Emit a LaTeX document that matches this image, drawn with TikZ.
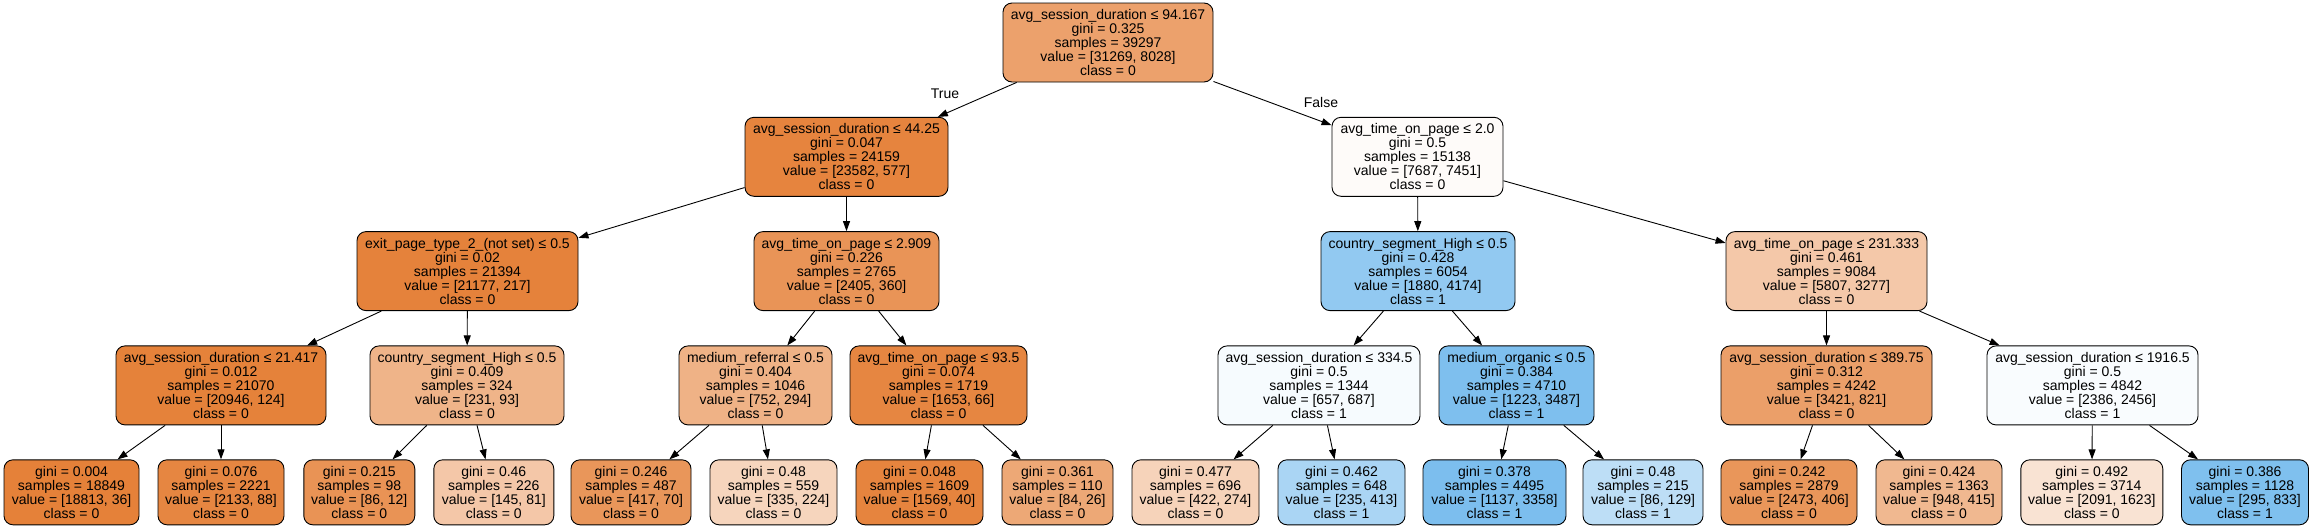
\documentclass[tikz,border=0pt]{standalone}
\usepackage{fontspec}
\setmainfont{Liberation Sans}
\usetikzlibrary{arrows.meta}
\definecolor{cR}{RGB}{236,161,108}
\definecolor{cA}{RGB}{230,132,62}
\definecolor{cB}{RGB}{254,251,249}
\definecolor{cC}{RGB}{229,130,59}
\definecolor{cD}{RGB}{233,148,87}
\definecolor{cE}{RGB}{146,201,241}
\definecolor{cF}{RGB}{244,200,169}
\definecolor{cG}{RGB}{229,130,58}
\definecolor{cH}{RGB}{239,180,137}
\definecolor{cI}{RGB}{239,178,134}
\definecolor{cJ}{RGB}{230,134,65}
\definecolor{cK}{RGB}{246,251,254}
\definecolor{cL}{RGB}{126,191,238}
\definecolor{cM}{RGB}{235,159,105}
\definecolor{cN}{RGB}{249,252,254}
\definecolor{l1}{RGB}{229,129,57}
\definecolor{l2}{RGB}{230,134,65}
\definecolor{l3}{RGB}{233,147,85}
\definecolor{l4}{RGB}{244,199,168}
\definecolor{l5}{RGB}{233,150,90}
\definecolor{l6}{RGB}{246,213,189}
\definecolor{l7}{RGB}{230,132,62}
\definecolor{l8}{RGB}{237,168,118}
\definecolor{l9}{RGB}{246,211,186}
\definecolor{l10}{RGB}{170,213,244}
\definecolor{l11}{RGB}{124,190,238}
\definecolor{l12}{RGB}{189,222,246}
\definecolor{l13}{RGB}{233,150,90}
\definecolor{l14}{RGB}{240,184,144}
\definecolor{l15}{RGB}{249,227,211}
\definecolor{l16}{RGB}{127,192,238}
\tikzset{
  tbox/.style={draw=black, line width=0.9pt, rounded corners=9pt, align=center,
    font=\fontsize{14}{14}\selectfont, inner xsep=7pt, inner ysep=0pt},
  inode/.style={tbox, minimum height=79pt},
  leaf/.style={tbox, minimum height=65pt},
  edge/.style={draw=black, line width=0.9pt, -{Triangle[length=10pt,width=7pt]}},
  elabel/.style={font=\fontsize{14}{14}\selectfont, inner sep=0pt}
}
\begin{document}
\begin{tikzpicture}[x=1pt,y=-1pt]
\useasboundingbox (0,0) rectangle (2314,528);
\fill[white] (0,0) rectangle (2314,528);
% level 0
\node[inode, fill=cR, minimum width=210pt] (R) at (1108,42.5) {avg\_session\_duration ≤ 94.167\\gini = 0.325\\samples = 39297\\value = [31269, 8028]\\class = 0};
% level 1
\node[inode, fill=cA, minimum width=203pt] (A) at (846.5,156.8) {avg\_session\_duration ≤ 44.25\\gini = 0.047\\samples = 24159\\value = [23582, 577]\\class = 0};
\node[inode, fill=cB, minimum width=171pt] (B) at (1417.5,156.8) {avg\_time\_on\_page ≤ 2.0\\gini = 0.5\\samples = 15138\\value = [7687, 7451]\\class = 0};
% level 2
\node[inode, fill=cC, minimum width=221pt] (C) at (467.5,271.1) {exit\_page\_type\_2\_(not set) ≤ 0.5\\gini = 0.02\\samples = 21394\\value = [21177, 217]\\class = 0};
\node[inode, fill=cD, minimum width=185pt] (D) at (846.5,271.1) {avg\_time\_on\_page ≤ 2.909\\gini = 0.226\\samples = 2765\\value = [2405, 360]\\class = 0};
\node[inode, fill=cE, minimum width=194pt] (E) at (1418,271.1) {country\_segment\_High ≤ 0.5\\gini = 0.428\\samples = 6054\\value = [1880, 4174]\\class = 1};
\node[inode, fill=cF, minimum width=201pt] (F) at (1826.5,271.1) {avg\_time\_on\_page ≤ 231.333\\gini = 0.461\\samples = 9084\\value = [5807, 3277]\\class = 0};
% level 3
\node[inode, fill=cG, minimum width=210pt] (G) at (221,385.4) {avg\_session\_duration ≤ 21.417\\gini = 0.012\\samples = 21070\\value = [20946, 124]\\class = 0};
\node[inode, fill=cH, minimum width=194pt] (H) at (467,385.4) {country\_segment\_High ≤ 0.5\\gini = 0.409\\samples = 324\\value = [231, 93]\\class = 0};
\node[inode, fill=cI, minimum width=153pt] (I) at (755.5,385.4) {medium\_referral ≤ 0.5\\gini = 0.404\\samples = 1046\\value = [752, 294]\\class = 0};
\node[inode, fill=cJ, minimum width=177pt] (J) at (938.5,385.4) {avg\_time\_on\_page ≤ 93.5\\gini = 0.074\\samples = 1719\\value = [1653, 66]\\class = 0};
\node[inode, fill=cK, minimum width=202pt] (K) at (1319,385.4) {avg\_session\_duration ≤ 334.5\\gini = 0.5\\samples = 1344\\value = [657, 687]\\class = 1};
\node[inode, fill=cL, minimum width=155pt] (L) at (1516.5,385.4) {medium\_organic ≤ 0.5\\gini = 0.384\\samples = 4710\\value = [1223, 3487]\\class = 1};
\node[inode, fill=cM, minimum width=211pt] (M) at (1826.5,385.4) {avg\_session\_duration ≤ 389.75\\gini = 0.312\\samples = 4242\\value = [3421, 821]\\class = 0};
\node[inode, fill=cN, minimum width=211pt] (N) at (2092.5,385.4) {avg\_session\_duration ≤ 1916.5\\gini = 0.5\\samples = 4842\\value = [2386, 2456]\\class = 1};
% leaves
\node[leaf, fill=l1, minimum width=135pt] (L1) at (71.5,492.3) {gini = 0.004\\samples = 18849\\value = [18813, 36]\\class = 0};
\node[leaf, fill=l2, minimum width=126pt] (L2) at (221,492.3) {gini = 0.076\\samples = 2221\\value = [2133, 88]\\class = 0};
\node[leaf, fill=l3, minimum width=111pt] (L3) at (359.3,492.3) {gini = 0.215\\samples = 98\\value = [86, 12]\\class = 0};
\node[leaf, fill=l4, minimum width=120pt] (L4) at (493.8,492.3) {gini = 0.46\\samples = 226\\value = [145, 81]\\class = 0};
\node[leaf, fill=l5, minimum width=120pt] (L5) at (631,492.3) {gini = 0.246\\samples = 487\\value = [417, 70]\\class = 0};
\node[leaf, fill=l6, minimum width=127pt] (L6) at (773.5,492.3) {gini = 0.48\\samples = 559\\value = [335, 224]\\class = 0};
\node[leaf, fill=l7, minimum width=127pt] (L7) at (919.5,492.3) {gini = 0.048\\samples = 1609\\value = [1569, 40]\\class = 0};
\node[leaf, fill=l8, minimum width=111pt] (L8) at (1057.5,492.3) {gini = 0.361\\samples = 110\\value = [84, 26]\\class = 0};
\node[leaf, fill=l9, minimum width=127pt] (L9) at (1195.5,492.3) {gini = 0.477\\samples = 696\\value = [422, 274]\\class = 0};
\node[leaf, fill=l10, minimum width=127pt] (L10) at (1341.5,492.3) {gini = 0.462\\samples = 648\\value = [235, 413]\\class = 1};
\node[leaf, fill=l11, minimum width=143pt] (L11) at (1494.5,492.3) {gini = 0.378\\samples = 4495\\value = [1137, 3358]\\class = 1};
\node[leaf, fill=l12, minimum width=120pt] (L12) at (1643,492.3) {gini = 0.48\\samples = 215\\value = [86, 129]\\class = 1};
\node[leaf, fill=l13, minimum width=136pt] (L13) at (1789,492.3) {gini = 0.242\\samples = 2879\\value = [2473, 406]\\class = 0};
\node[leaf, fill=l14, minimum width=126pt] (L14) at (1939,492.3) {gini = 0.424\\samples = 1363\\value = [948, 415]\\class = 0};
\node[leaf, fill=l15, minimum width=142pt] (L15) at (2091.8,492.3) {gini = 0.492\\samples = 3714\\value = [2091, 1623]\\class = 0};
\node[leaf, fill=l16, minimum width=127pt] (L16) at (2245,492.3) {gini = 0.386\\samples = 1128\\value = [295, 833]\\class = 1};
% edges
\draw[edge] (R) -- (A);
\draw[edge] (R) -- (B);
\node[elabel] (tT) at (945,94) {True};
\node[elabel] (tF) at (1321,102) {False};
\draw[edge] (A) -- (C);
\draw[edge] (A) -- (D);
\draw[edge] (B) -- (E);
\draw[edge] (B) -- (F);
\draw[edge] (C) -- (G);
\draw[edge] (C) -- (H);
\draw[edge] (D) -- (I);
\draw[edge] (D) -- (J);
\draw[edge] (E) -- (K);
\draw[edge] (E) -- (L);
\draw[edge] (F) -- (M);
\draw[edge] (F) -- (N);
\draw[edge] (G) -- (L1);
\draw[edge] (G) -- (L2);
\draw[edge] (H) -- (L3);
\draw[edge] (H) -- (L4);
\draw[edge] (I) -- (L5);
\draw[edge] (I) -- (L6);
\draw[edge] (J) -- (L7);
\draw[edge] (J) -- (L8);
\draw[edge] (K) -- (L9);
\draw[edge] (K) -- (L10);
\draw[edge] (L) -- (L11);
\draw[edge] (L) -- (L12);
\draw[edge] (M) -- (L13);
\draw[edge] (M) -- (L14);
\draw[edge] (N) -- (L15);
\draw[edge] (N) -- (L16);
\end{tikzpicture}
\end{document}
